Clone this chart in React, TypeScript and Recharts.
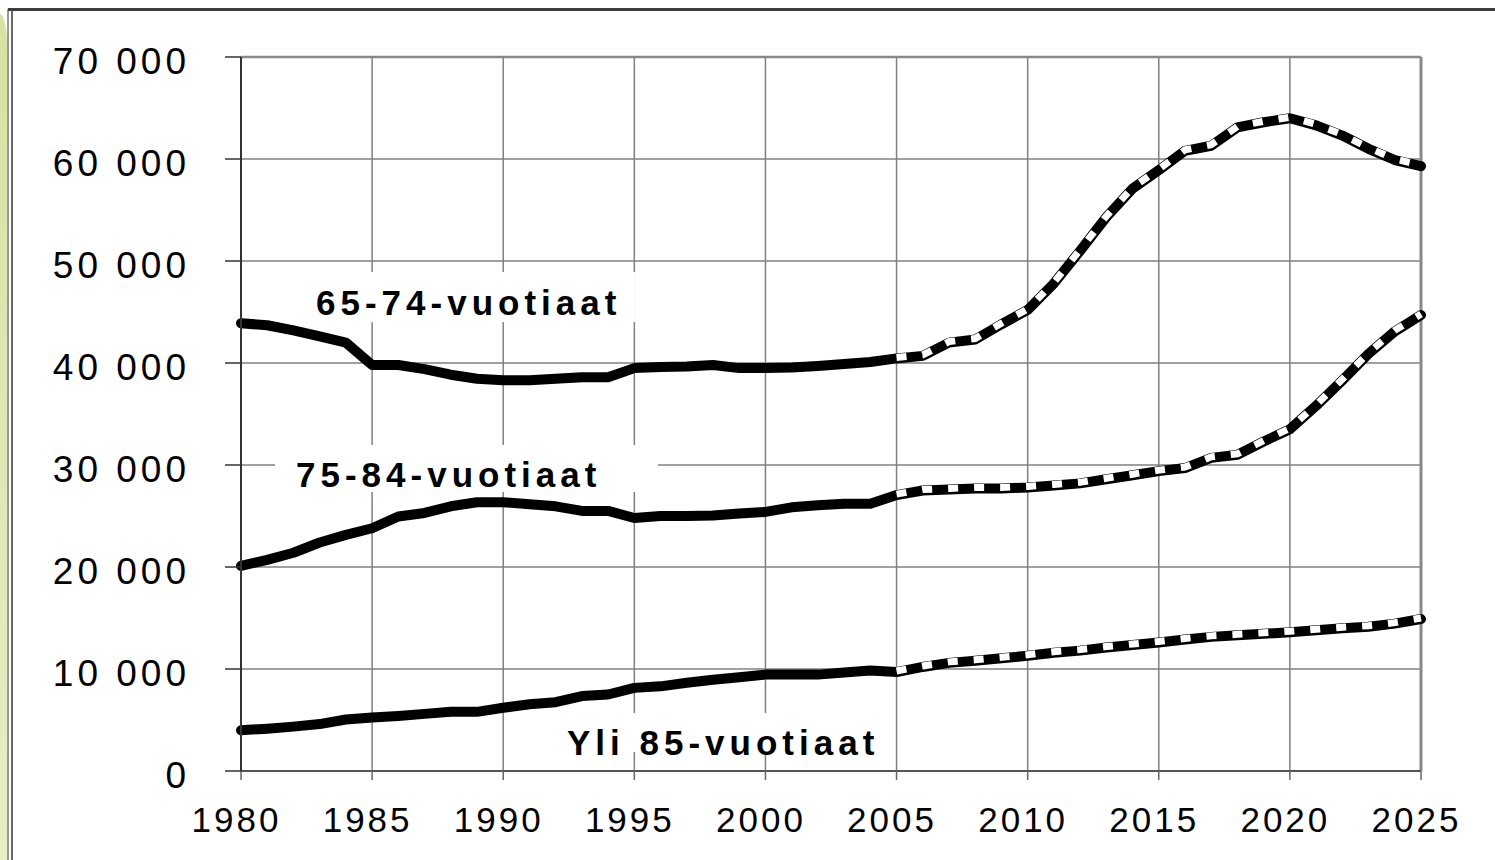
import React from "react";
import { LineChart, Line, XAxis, YAxis, CartesianGrid, ReferenceLine } from "recharts";

const years = [
  1980, 1981, 1982, 1983, 1984, 1985, 1986, 1987, 1988, 1989,
  1990, 1991, 1992, 1993, 1994, 1995, 1996, 1997, 1998, 1999,
  2000, 2001, 2002, 2003, 2004, 2005, 2006, 2007, 2008, 2009,
  2010, 2011, 2012, 2013, 2014, 2015, 2016, 2017, 2018, 2019,
  2020, 2021, 2022, 2023, 2024, 2025,
];

const age6574 = [
  43900, 43700, 43200, 42600, 42000, 39800, 39800, 39400, 38850, 38450,
  38300, 38300, 38450, 38600, 38600, 39500, 39600, 39650, 39800, 39500,
  39500, 39550, 39700, 39900, 40100, 40450, 40700, 42000, 42300, 43800,
  45200, 47800, 51000, 54300, 57100, 58900, 60800, 61300, 63100, 63600,
  64000, 63300, 62300, 61000, 59900, 59300,
];

const age7584 = [
  20100, 20700, 21400, 22400, 23150, 23800, 24950, 25300, 25950, 26350,
  26350, 26150, 25950, 25500, 25500, 24800, 25000, 25000, 25050, 25250,
  25400, 25850, 26050, 26200, 26200, 27050, 27500, 27600, 27700, 27700,
  27800, 28000, 28200, 28600, 29000, 29400, 29700, 30700, 31000, 32300,
  33500, 35800, 38300, 40900, 43100, 44700,
];

const age85 = [
  4000, 4150, 4350, 4600, 5050, 5250, 5400, 5600, 5800, 5800,
  6200, 6550, 6750, 7350, 7500, 8150, 8300, 8650, 8950, 9200,
  9450, 9450, 9450, 9650, 9850, 9700, 10200, 10600, 10800, 11050,
  11300, 11600, 11800, 12100, 12350, 12600, 12900, 13150, 13300, 13450,
  13600, 13800, 14000, 14150, 14450, 14900,
];

const projectionStart = 2005;
const xTicks = [1980, 1985, 1990, 1995, 2000, 2005, 2010, 2015, 2020, 2025];
const yTicks = [0, 10000, 20000, 30000, 40000, 50000, 60000, 70000];
const seriesLabels = ["65-74-vuotiaat", "75-84-vuotiaat", "Yli 85-vuotiaat"];

const data = years.map((year, i) => {
  const proj = year >= projectionStart;
  return {
    year,
    a: age6574[i],
    b: age7584[i],
    c: age85[i],
    aP: proj ? age6574[i] : null,
    bP: proj ? age7584[i] : null,
    cP: proj ? age85[i] : null,
  };
});

const FONT = "'Liberation Sans', Arial, Helvetica, sans-serif";

const fmt = (v: number) => {
  if (v === 0) return "0";
  const th = Math.floor(v / 1000);
  const rest = String(v % 1000).padStart(3, "0");
  return `${th} ${rest}`;
};

const YTick = (props: any) => {
  const { x, y, payload } = props;
  return (
    <text x={x} y={y + 17} textAnchor="end" fontSize={37} letterSpacing={4} fontFamily={FONT} fill="#000">
      {fmt(payload.value)}
    </text>
  );
};

const XTick = (props: any) => {
  const { x, y, payload } = props;
  return (
    <text x={x - 4.5} y={y + 52} textAnchor="middle" fontSize={35} letterSpacing={3} fontFamily={FONT} fill="#000">
      {payload.value}
    </text>
  );
};

export default function App() {
  const black = { stroke: "#000", strokeWidth: 10, dot: false, isAnimationActive: false, strokeLinecap: "round" as const, strokeLinejoin: "round" as const };
  const white = { stroke: "#fff", strokeWidth: 7, dot: false, isAnimationActive: false, strokeDasharray: "10 16", connectNulls: false, className: "proj-white" };
  return (
    <div style={{ position: "absolute", left: 0, top: 0, width: 1495, height: 860, background: "#fff", overflow: "hidden" }}>
      <style>{`.proj-white { transform: translateY(-1px); }`}</style>
      <div style={{ position: "absolute", left: 0, top: 14, width: 7, height: 846, background: "linear-gradient(#d6e2a2, #e6eec4)", borderTopRightRadius: "7px 30px" }} />
      <div style={{ position: "absolute", left: 7, top: 9, width: 1.5, height: 851, background: "#9a9a9a" }} />
      <div style={{ position: "absolute", left: 11, top: 9, width: 1.5, height: 851, background: "#6a6a6a" }} />
      <div style={{ position: "absolute", left: 8, top: 8, width: 1487, height: 3, background: "#3c3c3c" }} />
      <div style={{ position: "absolute", left: 0, top: 0 }}>
        <LineChart width={1495} height={860} data={data} margin={{ top: 57, right: 74, left: 0, bottom: 0 }}>
          <CartesianGrid stroke="#808080" strokeWidth={1.5} />
          <XAxis
            dataKey="year"
            type="number"
            domain={[1980, 2025]}
            ticks={xTicks}
            interval={0}
            height={89}
            tickSize={9}
            tickMargin={0}
            tick={<XTick />}
            axisLine={{ stroke: "#555", strokeWidth: 2 }}
            tickLine={{ stroke: "#666", strokeWidth: 1.5 }}
          />
          <YAxis
            type="number"
            domain={[0, 70000]}
            ticks={yTicks}
            interval={0}
            width={241}
            tickSize={16}
            tickMargin={35}
            tick={<YTick />}
            axisLine={{ stroke: "#333", strokeWidth: 2 }}
            tickLine={{ stroke: "#333", strokeWidth: 1.5 }}
          />
          <ReferenceLine x={2025} stroke="#888" strokeWidth={3} />
          <ReferenceLine y={70000} stroke="#888" strokeWidth={2.5} />
          <Line dataKey="a" {...black} />
          <Line dataKey="b" {...black} />
          <Line dataKey="c" {...black} />
          <Line dataKey="aP" {...white} />
          <Line dataKey="bP" {...white} />
          <Line dataKey="cP" {...white} />
        </LineChart>
      </div>
      <svg width={1495} height={860} style={{ position: "absolute", left: 0, top: 0, pointerEvents: "none" }}>
        <rect x={300} y={272} width={335} height={50} fill="#fff" />
        <text x={316} y={315} fontSize={35} fontWeight="bold" letterSpacing={5} fontFamily={FONT} fill="#000">{seriesLabels[0]}</text>
        <rect x={275} y={445} width={383} height={47} fill="#fff" />
        <text x={296} y={487} fontSize={35} fontWeight="bold" letterSpacing={5} fontFamily={FONT} fill="#000">{seriesLabels[1]}</text>
        <rect x={555} y={713} width={330} height={39} fill="#fff" />
        <text x={567} y={755} fontSize={35} fontWeight="bold" letterSpacing={5} fontFamily={FONT} fill="#000">{seriesLabels[2]}</text>
      </svg>
    </div>
  );
}
